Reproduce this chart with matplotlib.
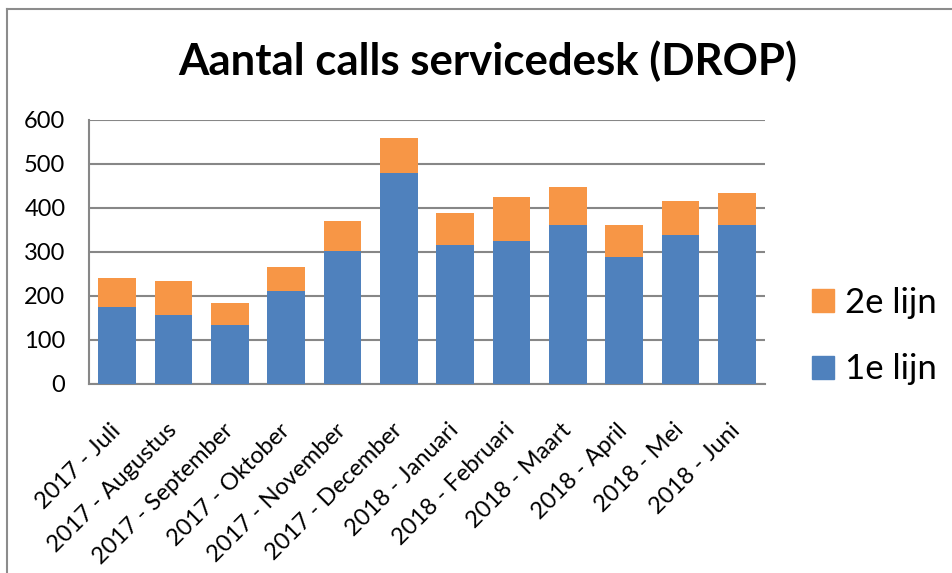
import matplotlib
matplotlib.use("Agg")
import matplotlib.pyplot as plt
from matplotlib.patches import Patch
from matplotlib.lines import Line2D

categories = ["2017 - Juli", "2017 - Augustus", "2017 - September", "2017 - Oktober",
              "2017 - November", "2017 - December", "2018 - Januari", "2018 - Februari",
              "2018 - Maart", "2018 - April", "2018 - Mei", "2018 - Juni"]
eerste_lijn = [175, 157, 134, 211, 302, 479, 315, 324, 361, 289, 338, 361]
totaal = [242, 234, 184, 266, 370, 560, 388, 424, 447, 361, 416, 434]
tweede_lijn = [t - e for t, e in zip(totaal, eerste_lijn)]
yticks = [0, 100, 200, 300, 400, 500, 600]

BLUE = "#4F81BD"
ORANGE = "#F79646"
GRID = "#878787"

plt.rcParams['font.family'] = ['Lato', 'DejaVu Sans']

fig = plt.figure(figsize=(9.52, 5.73), dpi=100)
ax = fig.add_axes([89/952, 189/573, 676/952, 264/573])

x = list(range(len(categories)))
ax.bar(x, eerste_lijn, width=0.67, color=BLUE, zorder=3, label="1e lijn")
ax.bar(x, tweede_lijn, bottom=eerste_lijn, width=0.67, color=ORANGE, zorder=3, label="2e lijn")

ax.set_xlim(-0.5, len(categories) - 0.5)
ax.set_ylim(0, 600)
ax.set_yticks(yticks)
ax.set_yticklabels([str(v) for v in yticks], fontsize=17)
ax.yaxis.grid(True, color=GRID, linewidth=1.5, zorder=0)
ax.set_axisbelow(True)
ax.tick_params(axis='y', length=0, pad=17)
ax.tick_params(axis='x', length=0, pad=31)
ax.set_xticks(x)
ax.set_xticklabels(categories, rotation=45, ha='right', va='center',
                   rotation_mode='anchor', fontsize=17)
for s in ['top', 'right']:
    ax.spines[s].set_visible(False)
for s in ['left', 'bottom']:
    ax.spines[s].set_color(GRID)
    ax.spines[s].set_linewidth(1.5)

fig.text(488/952, 1 - 61/573, "Aantal calls servicedesk (DROP)", ha='center', va='center',
         fontsize=31.5, fontweight='bold')

handles = [Patch(color=ORANGE, label="2e lijn"), Patch(color=BLUE, label="1e lijn")]
fig.legend(handles=handles, loc='center left', bbox_to_anchor=(812/952, 1 - 336/573),
           frameon=False, fontsize=25, handlelength=0.63, handleheight=0.63,
           handletextpad=0.32, labelspacing=1.0, borderpad=0, borderaxespad=0)

# outer chart frame (top and left visible)
fig.add_artist(Line2D([7/952, 7/952], [0, 1 - 9/573], color="#8c8c8c", linewidth=1.5,
                      transform=fig.transFigure))
fig.add_artist(Line2D([7/952, 1], [1 - 9/573, 1 - 9/573], color="#8c8c8c", linewidth=1.5,
                      transform=fig.transFigure))

fig.savefig("out.png", dpi=100)
